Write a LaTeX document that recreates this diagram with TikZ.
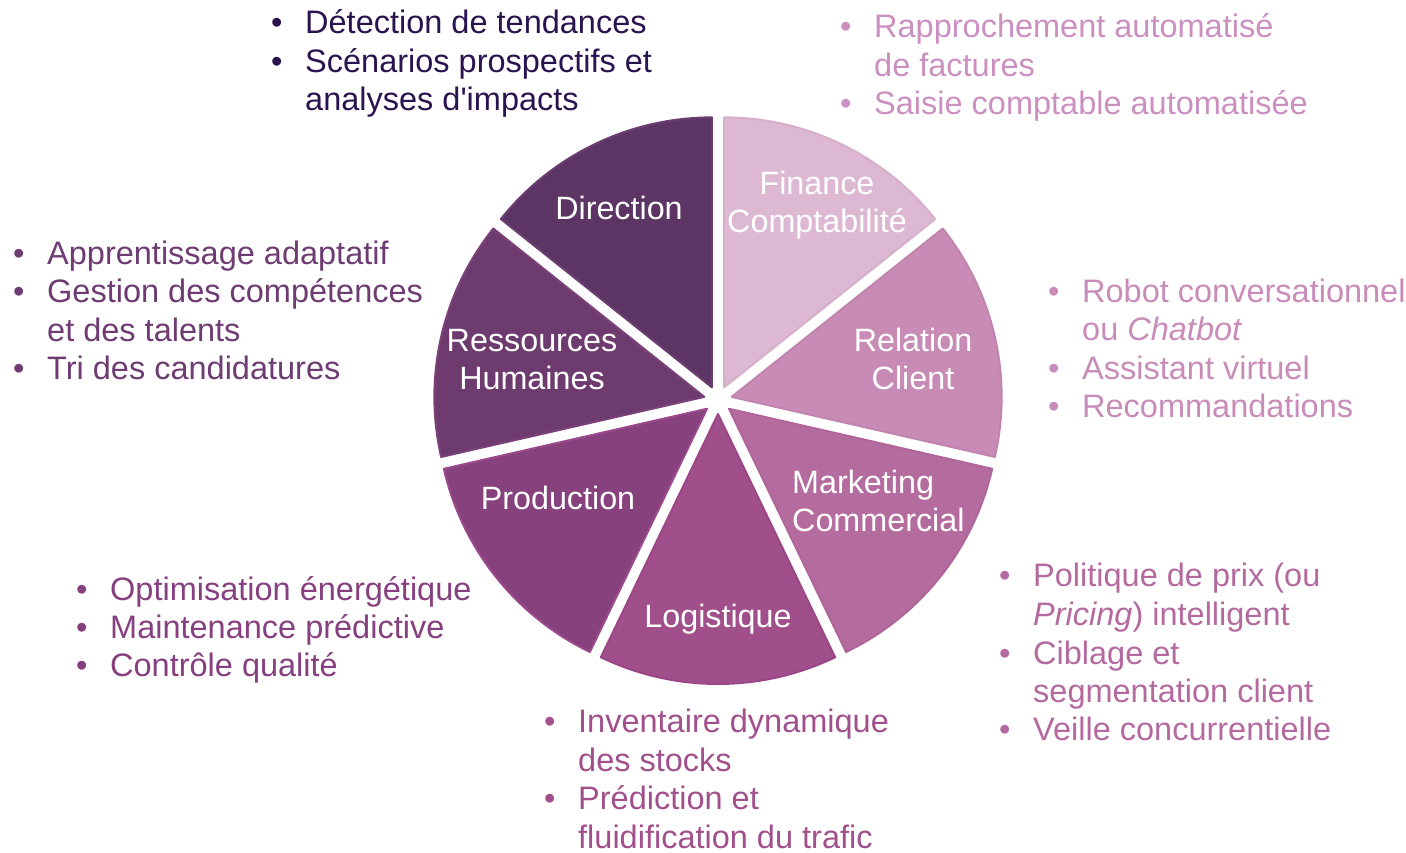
\documentclass[tikz,border=0pt]{standalone}
\usepackage{fontspec}
\setmainfont{Liberation Sans}[Ligatures=TeXOff]
\usepackage{xcolor}
\usetikzlibrary{calc}

%%% COLOURS %%%
\definecolor{finFill}{HTML}{DDB8D2}\definecolor{finLine}{HTML}{D8AFCB}
\definecolor{relFill}{HTML}{C78BB5}\definecolor{relLine}{HTML}{C184AF}
\definecolor{mktFill}{HTML}{B46C9F}\definecolor{mktLine}{HTML}{AF6599}
\definecolor{logFill}{HTML}{A14F8B}\definecolor{logLine}{HTML}{9B4787}
\definecolor{prdFill}{HTML}{87417D}\definecolor{prdLine}{HTML}{9A4A8D}
\definecolor{rhFill}{HTML}{6E3B6F}\definecolor{rhLine}{HTML}{7A4279}
\definecolor{dirFill}{HTML}{5C3565}\definecolor{dirLine}{HTML}{6B3E70}
\definecolor{dirText}{HTML}{2A1450}
\definecolor{finText}{HTML}{CB8FC0}
\definecolor{rhText}{HTML}{6E3C72}
\definecolor{relText}{HTML}{C98CB9}
\definecolor{prdText}{HTML}{87407F}
\definecolor{mktText}{HTML}{B46A9F}
\definecolor{logText}{HTML}{A1508C}

\newcommand{\bul}{\makebox[34pt][l]{•}}
\newcommand{\ind}{\hspace*{34pt}}

\begin{document}
\begin{tikzpicture}[x=1pt,y=1pt,
  sector/.style={line width=2pt, line join=round},
  slabel/.style={white, inner sep=0pt, font=\fontsize{32.3}{38}\selectfont},
  ilist/.style={align=left, inner sep=0pt, anchor=base west, font=\fontsize{32.5}{38.5}\selectfont}]

\useasboundingbox (0,0) rectangle (1406,852);
\coordinate (centre) at (718,452);

%%% SECTORS (exploded pie) %%%
\foreach \k/\sec in {0/fin,1/rel,2/mkt,3/log,4/prd,5/rh,6/dir}{
  \pgfmathsetmacro{\sa}{90-(\k+1)*360/7}
  \pgfmathsetmacro{\ea}{90-\k*360/7}
  \pgfmathsetmacro{\bis}{\sa+180/7}
  \filldraw[sector, fill=\sec Fill, draw=\sec Line] ($(centre)+(\bis:14)$) -- ++(\sa:270)
    arc[start angle=\sa, end angle=\ea, radius=270] -- cycle;
}

%%% SECTOR LABELS (base = last line) %%%
\node[slabel, anchor=base] (dir) at (619,632) {Direction};
\node[slabel, anchor=base, align=center] (fin) at (817,619) {Finance\\Comptabilité};
\node[slabel, anchor=base, align=center] (rel) at (913,462) {Relation\\Client};
\node[slabel, anchor=base, align=center] (rh) at (532,462) {Ressources\\Humaines};
\node[slabel, anchor=base] (prd) at (558,342) {Production};
\node[slabel, anchor=base west, align=left] (mkt) at (792,320) {Marketing\\Commercial};
\node[slabel, anchor=base] (log) at (718,224) {Logistique};

%%% USE CASES (base = last line) %%%
\node[ilist, text=dirText] (dirlist) at (271,741)
  {\bul Détection de tendances\\\bul Scénarios prospectifs et\\\ind analyses d'impacts};
\node[ilist, text=finText] (finlist) at (840,737)
  {\bul Rapprochement automatisé\\\ind de factures\\\bul Saisie comptable automatisée};
\node[ilist, text=rhText] (rhlist) at (13,472)
  {\bul Apprentissage adaptatif\\\bul Gestion des compétences\\\ind et des talents\\\bul Tri des candidatures};
\node[ilist, text=relText] (rellist) at (1048,434)
  {\bul Robot conversationnel\\\ind ou \textit{Chatbot}\\\bul Assistant virtuel\\\bul Recommandations};
\node[ilist, text=prdText] (prdlist) at (76,175)
  {\bul Optimisation énergétique\\\bul Maintenance prédictive\\\bul Contrôle qualité};
\node[ilist, text=mktText] (mktlist) at (999,111)
  {\bul Politique de prix (ou\\\ind \textit{Pricing}) intelligent\\\bul Ciblage et\\\ind segmentation client\\\bul Veille concurrentielle};
\node[ilist, text=logText] (loglist) at (544,4)
  {\bul Inventaire dynamique\\\ind des stocks\\\bul Prédiction et\\\ind fluidification du trafic};

\end{tikzpicture}
\end{document}
